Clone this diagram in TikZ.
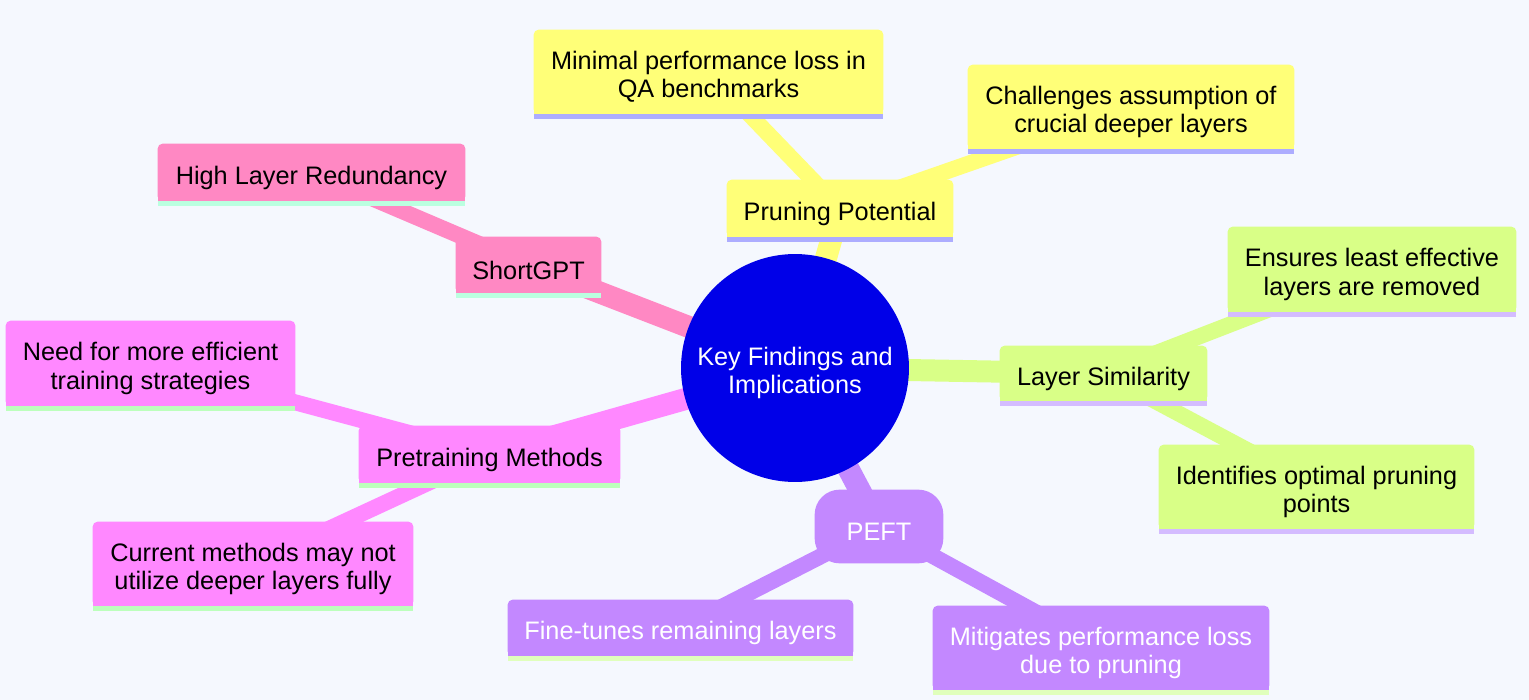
\documentclass[tikz,border=0pt]{standalone}
\usepackage{fontspec}
\setmainfont{Liberation Sans}
\usetikzlibrary{backgrounds}
\pgfdeclarelayer{boxes}
\pgfsetlayers{background,boxes,main}

\definecolor{bgc}{HTML}{F5F8FE}
\definecolor{rootc}{HTML}{0000E8}
\definecolor{yel}{HTML}{FFFF78}
\definecolor{yelbar}{HTML}{ADADFF}
\definecolor{lim}{HTML}{D9FF87}
\definecolor{limbar}{HTML}{D4BCFF}
\definecolor{pur}{HTML}{C388FF}
\definecolor{purbar}{HTML}{E0FFBC}
\definecolor{pnk}{HTML}{FF88C3}
\definecolor{pnkbar}{HTML}{BBFFE0}
\definecolor{mag}{HTML}{FF88FF}
\definecolor{magbar}{HTML}{BCFFBC}

\begin{document}
\begin{tikzpicture}[x=0.02cm,y=-0.02cm]
    \tikzstyle{idea}=[inner sep=0pt,align=center,font=\fontsize{14.4}{16}\selectfont]
    \tikzstyle{rootidea}=[idea,circle,text=white,minimum size=4.56cm]
    \tikzstyle{up}=[yshift=0.1cm]

    % text sits 5px below the middle of its box
    \node[rootidea] (root) at (795,373) {Key Findings and\\Implications};

    % boxes: name / centre / size / text colour / text
    \foreach \n/\x/\y/\w/\h/\tc/\txt in {
        prun/840/208.5/226/57/black/{Pruning Potential},
        mini/708.5/72/349/84/black/{Minimal performance loss in\\QA benchmarks},
        chal/1131/107/326/84/black/{Challenges assumption of\\crucial deeper layers},
        lsim/1103.5/373.5/207/55/black/{Layer Similarity},
        ens/1372/269.5/288/85/black/{Ensures least effective\\layers are removed},
        iden/1316.5/487/315/84/black/{Identifies optimal pruning\\points},
        peft/879/526.5/128/73/white/{PEFT},
        fine/680.5/628/345/56/white/{Fine-tunes remaining layers},
        miti/1101/648/336/84/white/{Mitigates performance loss\\due to pruning},
        short/528.5/265/145/56/black/{ShortGPT},
        high/311.5/172.5/307/57/black/{High Layer Redundancy},
        pre/489.5/454.5/261/57/black/{Pretraining Methods},
        need/150.5/363.5/289/85/black/{Need for more efficient\\training strategies},
        curr/253/564/320/84/black/{Current methods may not\\utilize deeper layers fully}}
            \node[idea,text=\tc,minimum width=\w*0.02cm,minimum height=\h*0.02cm] (\n) at (\x,\y+5) {\txt};

    \begin{pgfonlayer}{boxes}
        \fill[rootc] ([up]root.center) circle (2.28cm);
        \foreach \n/\c/\b in {prun/yel/yelbar, mini/yel/yelbar, chal/yel/yelbar,
                lsim/lim/limbar, ens/lim/limbar, iden/lim/limbar,
                fine/pur/purbar, miti/pur/purbar, short/pnk/pnkbar, high/pnk/pnkbar,
                pre/mag/magbar, need/mag/magbar, curr/mag/magbar} {
            \fill[\c,rounded corners=0.1cm] ([up]\n.south west) rectangle ([up]\n.north east);
            \fill[\c] ([up]\n.south west) rectangle ([up]\n.east);
            \fill[\b] ([up]\n.south west) rectangle ([yshift=0.01cm]\n.south east);
        }
        \fill[pur,rounded corners=0.5cm] ([up]peft.south west) rectangle ([up]peft.north east);
    \end{pgfonlayer}

    \begin{pgfonlayer}{background}
        \fill[bgc] (0,0) rectangle (1529,700);
        \foreach \to/\c in {prun/yel, lsim/lim, peft/pur, short/pnk, pre/mag}
            \draw[\c,line width=0.44cm] ([up]root.center) -- ([up]\to.center);
        \foreach \from/\to/\c in {prun/mini/yel, prun/chal/yel, lsim/ens/lim, lsim/iden/lim,
                peft/fine/pur, peft/miti/pur, short/high/pnk, pre/need/mag, pre/curr/mag}
            \draw[\c,line width=0.32cm] ([up]\from.center) -- ([up]\to.center);
    \end{pgfonlayer}
\end{tikzpicture}
\end{document}
